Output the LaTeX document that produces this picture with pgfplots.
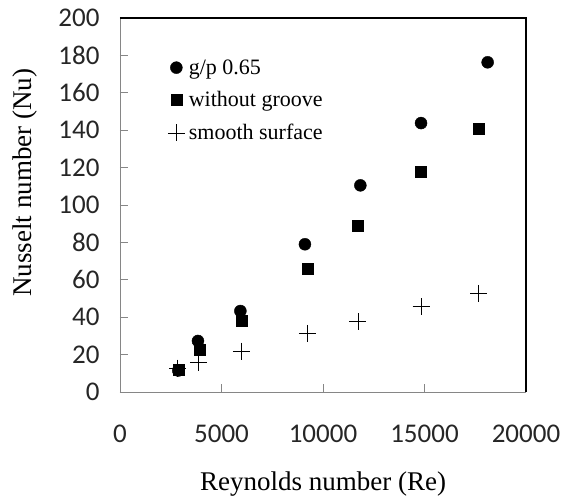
\documentclass[border=0pt]{standalone}
\usepackage{pgfplots}
\pgfplotsset{compat=1.18}
\usepackage{fontspec}
\setmainfont{Liberation Serif}
\newfontfamily\tickfont{Carlito}
\usetikzlibrary{calc}
\definecolor{axisgray}{RGB}{134,134,134}

\begin{document}
\begin{tikzpicture}
\begin{axis}[
    name=ax,
    scale only axis,
    width=406pt, height=374pt,
    xmin=0, xmax=20000,
    ymin=0, ymax=200,
    xtick={0,5000,...,20000},
    ytick={0,20,...,200},
    axis x line*=bottom,
    axis y line*=left,
    axis line style={axisgray, line width=0.9pt, -},
    tick style={axisgray, line width=0.9pt},
    tick align=inside,
    major tick length=8pt,
    scaled x ticks=false,
    /pgf/number format/assume math mode=true,
    /pgf/number format/1000 sep={},
    ticklabel style={font=\tickfont\fontsize{27}{27}\selectfont, text=black!85},
    xticklabel style={yshift=-29pt},
    yticklabel style={xshift=-17pt},
    xlabel={Reynolds number (Re)},
    ylabel={Nusselt number (Nu)},
    label style={font=\fontsize{27}{27}\selectfont},
    xlabel style={yshift=-23pt},
    ylabel style={at={(ticklabel cs:0.56)}, yshift=14pt},
    legend style={draw=none, fill=none, at={(0.11,0.90)}, anchor=north west,
        font=\fontsize{22}{22}\selectfont, row sep=12pt,
        /tikz/every odd column/.append style={column sep=2pt}},
    legend cell align=left,
    clip=false,
]
\coordinate (bl) at (rel axis cs:0,0);
\coordinate (tr) at (rel axis cs:1,1);
\draw[black, line width=1.4pt] (rel axis cs:0,1) -- (rel axis cs:1,1) -- (rel axis cs:1,0);

\addplot[only marks, mark=*, mark size=6pt, black, mark options={fill=black}] coordinates {
    (2870,11.5) (3840,27.3) (5930,43.3) (9110,79.0) (11840,110.5) (14830,143.8) (18110,176.3)
};
\addplot[only marks, mark=square*, mark size=5.5pt, black, mark options={fill=black}] coordinates {
    (2870,11.8) (3930,22.5) (5980,38.1) (9230,65.9) (11720,89.1) (14830,117.6) (17670,140.6)
};
\addplot[only marks, mark=+, mark size=8.5pt, black, mark options={line width=0.8pt}] coordinates {
    (2850,12.8) (3860,15.9) (5980,21.9) (9230,31.4) (11720,37.6) (14830,45.6) (17670,52.8)
};
\legend{g/p 0.65, without groove, smooth surface}
\end{axis}
\pgfresetboundingbox
\path[use as bounding box] ($(bl)+(-120pt,-107pt)$) rectangle ($(tr)+(35pt,18pt)$);
\end{tikzpicture}
\end{document}
